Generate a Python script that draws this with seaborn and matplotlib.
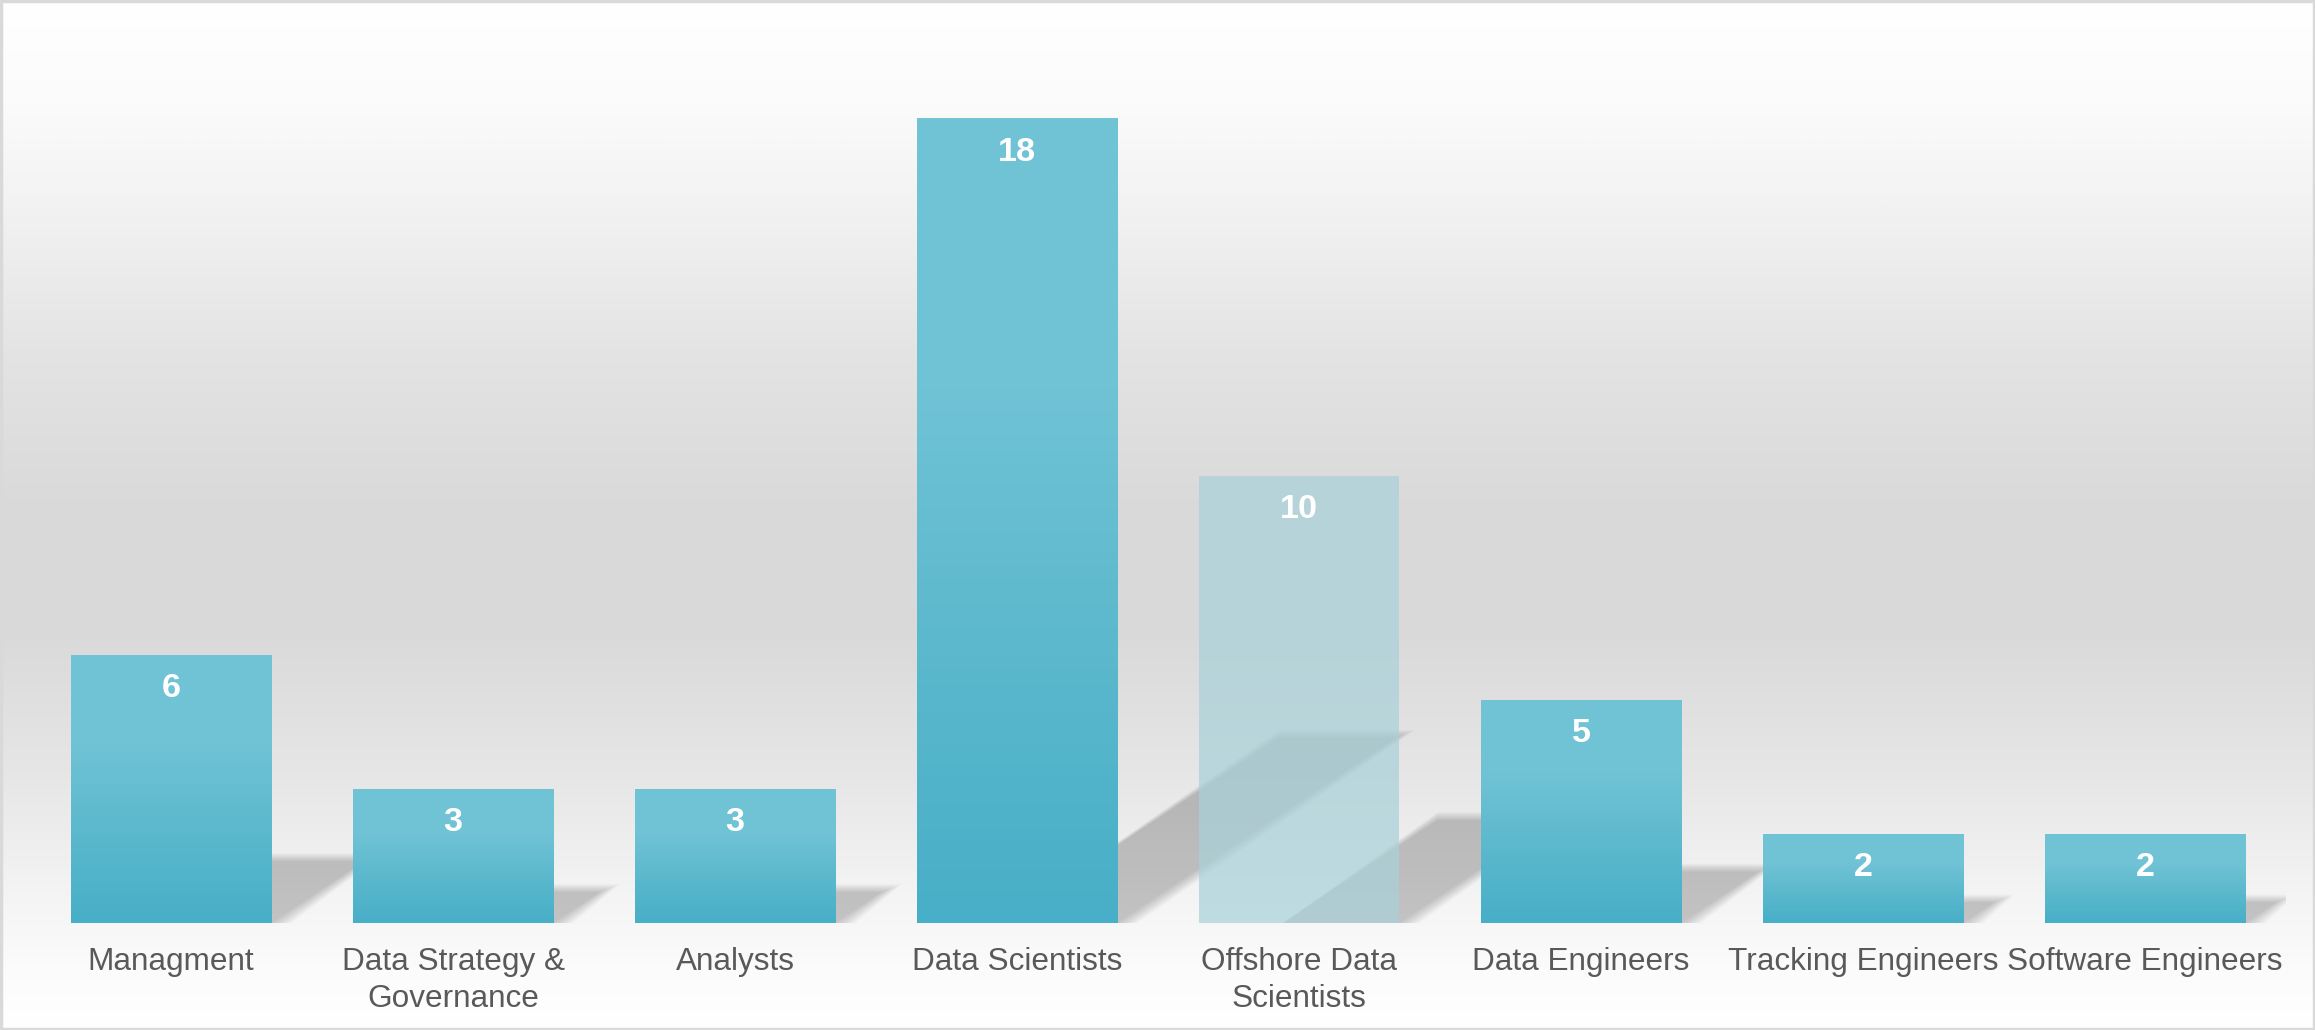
import numpy as np
import pandas as pd
import matplotlib
matplotlib.use("Agg")
from matplotlib import pyplot as plt
from matplotlib.colors import LinearSegmentedColormap
from matplotlib.patches import Rectangle
import seaborn as sns

roles = ["Managment", "Data Strategy &\nGovernance", "Analysts", "Data Scientists",
         "Offshore Data\nScientists", "Data Engineers", "Tracking Engineers", "Software Engineers"]
headcount = [6, 3, 3, 18, 10, 5, 2, 2]
faded = "Offshore Data\nScientists"

df = pd.DataFrame({"role": roles, "count": headcount})

sns.set_theme(style="white")
plt.rcParams["font.family"] = ["Liberation Sans", "DejaVu Sans"]

fig = plt.figure(figsize=(23.15, 10.30), dpi=100)

# background gradient over whole figure
bg = fig.add_axes([0, 0, 1, 1], zorder=-10)
stops = [(0.0, "#ffffff"), (0.10, "#fbfbfb"), (0.20, "#f2f2f2"), (0.35, "#e3e3e3"),
         (0.50, "#d9d9d9"), (0.62, "#dadada"), (0.75, "#e6e6e6"), (0.87, "#f4f4f4"),
         (0.95, "#fcfcfc"), (1.0, "#ffffff")]
bg_cmap = LinearSegmentedColormap.from_list("bg", stops)
bg.imshow(np.linspace(0, 1, 512).reshape(-1, 1), aspect="auto", cmap=bg_cmap,
          extent=[0, 1, 0, 1], origin="upper")
bg.set_axis_off()
fig.patches.append(Rectangle((0.0005, 0.001), 0.999, 0.998, transform=fig.transFigure,
                             fill=False, edgecolor="#d9d9d9", linewidth=2.5))

ax = fig.add_axes([30 / 2315, 107 / 1030, 2256 / 2315, 894 / 1030])
ax.patch.set_alpha(0)

sns.barplot(data=df, x="role", y="count", ax=ax, width=0.712, color="#4ab1c9",
            saturation=1, errorbar=None, linewidth=0, zorder=3)

bar_cmap = LinearSegmentedColormap.from_list("bar", ["#47afc7", "#5bb8cd", "#70c3d5", "#71c3d5"])
grad = np.linspace(0, 1, 256).reshape(-1, 1)

for patch, role, val in zip(ax.patches, roles, headcount):
    x0 = patch.get_x()
    w = patch.get_width()
    patch.set_linewidth(0)
    # soft perspective shadow to the right of each bar
    dx = 0.0547 * val
    dy = 0.23 * val
    for k in range(8):
        e = 0.01 * k
        ax.fill([x0 + 0.3, x0 + w + e, x0 + w + dx + e, x0 + dx + 0.3],
                [0, 0, dy + e * 2.5, dy + e * 2.5],
                color="black", alpha=0.026, lw=0, zorder=1)
    if role == faded:
        patch.set_facecolor((169 / 255, 209 / 255, 217 / 255, 0.72))
        patch.set_zorder(4)
    else:
        patch.set_facecolor("none")
        im = ax.imshow(grad, aspect="auto", cmap=bar_cmap, origin="lower",
                       extent=[x0, x0 + w, 0, val], zorder=3)
        im.set_clip_path(patch)
    ax.text(x0 + w / 2, val - 0.76, str(val), ha="center", va="center",
            color="white", fontsize=24.6, fontweight="bold", zorder=5)

ax.set_xlim(-0.5, len(roles) - 0.5)
ax.set_ylim(0, 20)
ax.set_xlabel("")
ax.set_ylabel("")
ax.set_yticks([])
ax.tick_params(axis="x", length=0, pad=17, labelsize=22.7, labelcolor="#595959")
for lab in ax.get_xticklabels():
    lab.set_linespacing(1.3)
sns.despine(ax=ax, left=True, bottom=True, top=True, right=True)

plt.savefig("out.png", dpi=100)
